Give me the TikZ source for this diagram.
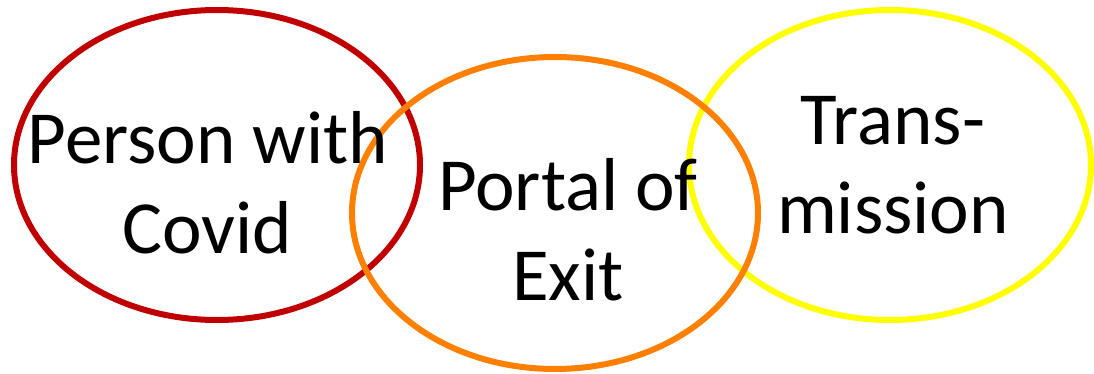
\documentclass[tikz,border=0pt]{standalone}
\usepackage{fontspec}
\setmainfont{Carlito}
\usetikzlibrary{shapes.geometric}
\definecolor{cRed}{HTML}{C00000}
\definecolor{cOrange}{HTML}{FF8000}
\definecolor{cYellow}{HTML}{FFFF00}
\tikzset{
  ring/.style={ellipse, draw=#1, line width=6pt, inner sep=0pt, outer sep=0pt},
  word/.style={anchor=base, inner sep=0pt, font=\fontsize{75}{90}\selectfont, text=black}
}
\begin{document}
\begin{tikzpicture}[x=1pt,y=1pt]
\useasboundingbox (0,0) rectangle (1094,373);
\node[ring=cRed, minimum width=406pt, minimum height=310pt] (person) at (217,208) {};
\node[ring=cYellow, minimum width=402pt, minimum height=310pt] (trans) at (890,208) {};
\node[ring=cOrange, minimum width=406pt, minimum height=312pt] (portal) at (555,160) {};
\node[word] (p1) at (208,210) {Person with};
\node[word] (p2) at (207,120) {Covid};
\node[word] (o1) at (568,163) {Portal of};
\node[word] (o2) at (568,73) {Exit};
\node[word] (t1) at (893,229) {Trans-};
\node[word] (t2) at (893,140) {mission};
\end{tikzpicture}
\end{document}
